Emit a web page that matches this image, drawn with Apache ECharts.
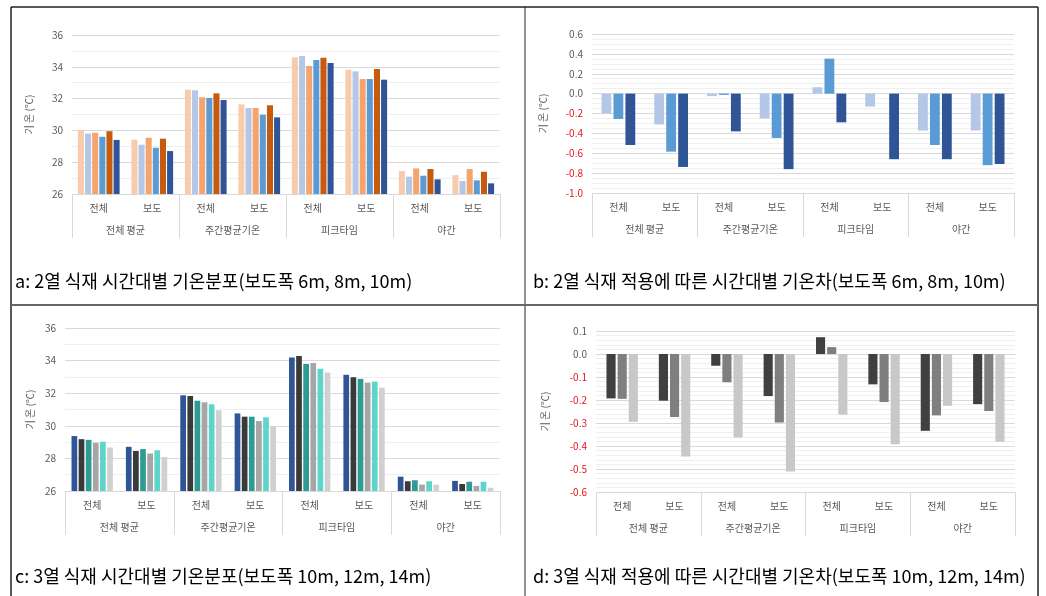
<!DOCTYPE html>
<html><head><meta charset="utf-8">
<script src="https://cdn.jsdelivr.net/npm/echarts@6/dist/echarts.min.js"></script>
<style>html,body{margin:0;padding:0;background:#fff;}#c{width:1046px;height:596px;}</style>
</head><body><div id="c"></div>
<script>
const categories = ['전체','보도','전체','보도','전체','보도','전체','보도'];
const groups = ['전체 평균','주간평균기온','피크타임','야간'];
const yTitle = '기 온 (℃)';
const captions = [
  'a: 2열 식재 시간대별 기온분포(보도폭 6m, 8m, 10m)',
  'b: 2열 식재 적용에 따른 시간대별 기온차(보도폭 6m, 8m, 10m)',
  'c: 3열 식재 시간대별 기온분포(보도폭 10m, 12m, 14m)',
  'd: 3열 식재 적용에 따른 시간대별 기온차(보도폭 10m, 12m, 14m)'
];
// panel a
const aS1 = [30.02, 29.42, 32.56, 31.64, 34.60, 33.82, 27.45, 27.19];
const aS2 = [29.80, 29.10, 32.52, 31.41, 34.68, 33.71, 27.09, 26.82];
const aS3 = [29.85, 29.54, 32.08, 31.41, 34.05, 33.23, 27.61, 27.57];
const aS4 = [29.60, 28.91, 32.04, 30.99, 34.43, 33.23, 27.15, 26.86];
const aS5 = [29.95, 29.48, 32.33, 31.58, 34.57, 33.86, 27.57, 27.40];
const aS6 = [29.40, 28.70, 31.91, 30.82, 34.24, 33.19, 26.92, 26.67];
// panel b
const bS1 = [-0.200, -0.310, -0.025, -0.250, 0.064, -0.130, -0.372, -0.372];
const bS2 = [-0.255, -0.584, -0.013, -0.446, 0.352, 0.000, -0.517, -0.720];
const bS3 = [-0.517, -0.738, -0.380, -0.760, -0.289, -0.660, -0.660, -0.708];
// panel c
const cS1 = [29.37, 28.71, 31.87, 30.76, 34.19, 33.13, 26.88, 26.62];
const cS2 = [29.18, 28.46, 31.83, 30.56, 34.28, 32.98, 26.60, 26.43];
const cS3 = [29.14, 28.57, 31.54, 30.56, 33.80, 32.88, 26.66, 26.57];
const cS4 = [28.96, 28.30, 31.44, 30.29, 33.86, 32.65, 26.39, 26.31];
const cS5 = [29.02, 28.50, 31.32, 30.52, 33.50, 32.71, 26.60, 26.57];
const cS6 = [28.67, 28.09, 30.95, 29.98, 33.27, 32.34, 26.39, 26.20];
// panel d
const dS1 = [-0.193, -0.203, -0.051, -0.183, 0.073, -0.132, -0.334, -0.218];
const dS2 = [-0.195, -0.274, -0.123, -0.298, 0.030, -0.209, -0.267, -0.248];
const dS3 = [-0.295, -0.446, -0.363, -0.511, -0.264, -0.392, -0.225, -0.382];

const FONT = '"Noto Sans CJK KR", "Noto Sans", sans-serif';
const LBL = '#595959';
const GRIDC = '#D9D9D9';

const panels = [
  {grid:{left:72, top:35, width:428, height:159}, min:26, max:36, interval:2, minorSplit:2, neg:false, nameGap:38,
   series:[aS1,aS2,aS3,aS4,aS5,aS6], colors:['#F8CBAD','#B4C7E7','#F4A46C','#5B9BD5','#C55A11','#2F5597'], barGap:'18%', cat:'22%'},
  {grid:{left:592, top:34, width:422, height:159}, min:-1, max:0.6, interval:0.2, minorSplit:4, neg:true, nameGap:44,
   series:[bS1,bS2,bS3], colors:['#B4C7E7','#5B9BD5','#2F5597'], barGap:'22%', cat:'36%'},
  {grid:{left:65, top:328, width:435, height:163}, min:26, max:36, interval:2, minorSplit:2, neg:false, nameGap:30,
   series:[cS1,cS2,cS3,cS4,cS5,cS6], colors:['#2F5597','#3A3A3A','#2E9C94','#A6A6A6','#5DD5CB','#D0D0D0'], barGap:'25%', cat:'24%'},
  {grid:{left:596, top:331, width:419, height:161}, min:-0.6, max:0.1, interval:0.1, minorSplit:5, neg:true, nameGap:46,
   series:[dS1,dS2,dS3], colors:['#404040','#7F7F7F','#C8C8C8'], barGap:'22%', cat:'40%'}
];

const grids = [], xAxes = [], yAxes = [], series = [];
panels.forEach((p, i) => {
  grids.push(Object.assign({containLabel:false}, p.grid));
  xAxes.push({type:'category', gridIndex:i, data:categories, position:'bottom',
    axisLine:{show:true, lineStyle:{color:GRIDC}}, axisTick:{show:false},
    axisLabel:{fontSize:10, color:LBL, fontFamily:FONT, margin:9, interval:0}, splitLine:{show:false}});
  xAxes.push({type:'category', gridIndex:i, data:groups, position:'bottom', offset:0,
    axisLine:{show:false}, axisTick:{show:true, length:44, interval:0, lineStyle:{color:GRIDC}},
    axisLabel:{fontSize:10, color:LBL, fontFamily:FONT, margin:31, interval:0}, splitLine:{show:false}});
  yAxes.push({type:'value', gridIndex:i, min:p.min, max:p.max, interval:p.interval,
    name:yTitle, nameLocation:'middle', nameGap:p.nameGap, nameRotate:90,
    nameTextStyle:{fontSize:10, color:LBL, fontFamily:FONT},
    axisLine:{show:false}, axisTick:{show:false},
    axisLabel:{fontSize:10, fontFamily:FONT, margin:9,
      formatter: v => p.neg ? Number(v).toFixed(1) : String(Math.round(v)),
      color: v => (p.neg && Number(v) < -1e-9) ? '#E8141B' : LBL},
    splitLine:{show:true, lineStyle:{color:GRIDC, width:1}},
    minorTick:{show:false, splitNumber:p.minorSplit},
    minorSplitLine:{show:true, lineStyle:{color:'#EFEFEF', width:1}}});
  p.series.forEach((arr, k) => {
    series.push({type:'bar', xAxisIndex:i*2, yAxisIndex:i, data:arr,
      itemStyle:{color:p.colors[k]}, barGap:p.barGap, barCategoryGap:p.cat,
      silent:true, animation:false});
  });
});

const capStyle = {fontSize:18, fontFamily:FONT, fill:'#000', textVerticalAlign:'middle'};
const graphic = [
  {type:'line', shape:{x1:11, y1:7, x2:1038, y2:7}, style:{stroke:'#222', lineWidth:1.5}},
  {type:'line', shape:{x1:11, y1:7, x2:11, y2:596}, style:{stroke:'#222', lineWidth:1.5}},
  {type:'line', shape:{x1:1038, y1:7, x2:1038, y2:596}, style:{stroke:'#222', lineWidth:1.5}},
  {type:'line', shape:{x1:525, y1:7, x2:525, y2:596}, style:{stroke:'#222', lineWidth:1}},
  {type:'line', shape:{x1:11, y1:305, x2:1038, y2:305}, style:{stroke:'#666', lineWidth:2}},
  {type:'text', left:15, top:272, style:Object.assign({text:captions[0]}, capStyle)},
  {type:'text', left:533, top:272, style:Object.assign({text:captions[1]}, capStyle)},
  {type:'text', left:15, top:567, style:Object.assign({text:captions[2]}, capStyle)},
  {type:'text', left:533, top:567, style:Object.assign({text:captions[3]}, capStyle)}
];

const chart = echarts.init(document.getElementById('c'), null, {renderer:'canvas'});
chart.setOption({animation:false, backgroundColor:'#fff', textStyle:{fontFamily:FONT},
  grid:grids, xAxis:xAxes, yAxis:yAxes, series:series, graphic:graphic});
</script></body></html>
